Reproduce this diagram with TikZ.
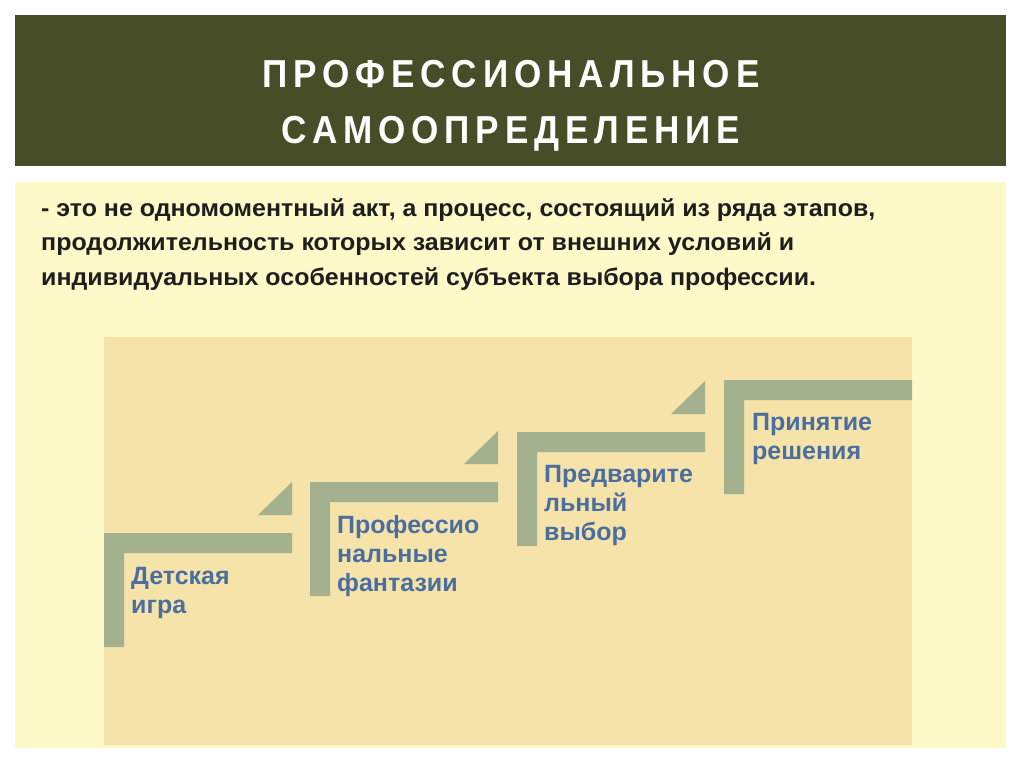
\documentclass[tikz,border=0pt]{standalone}
\usepackage{fontspec}
\setmainfont{Liberation Sans}
\newfontfamily\titlefont[FakeStretch=0.9,LetterSpace=15]{Liberation Sans}
\newfontfamily\bodyfont[FakeStretch=1.04]{Liberation Sans}
\definecolor{titlebg}{HTML}{474D27}
\definecolor{panel}{HTML}{FEF9C8}
\definecolor{tanbox}{HTML}{F5E3AA}
\definecolor{barcol}{HTML}{A3B18F}
\definecolor{lblcol}{HTML}{4A6EA0}
\definecolor{bodycol}{HTML}{1E1E1E}
\tikzset{
  titletext/.style={anchor=base, inner sep=0pt, text=white, font=\titlefont\bfseries\fontsize{39}{44}\selectfont},
  bodytext/.style={anchor=base west, inner sep=0pt, text=bodycol, font=\bodyfont\bfseries\fontsize{24}{34}\selectfont},
  steplabel/.style={anchor=base west, inner sep=0pt, text=lblcol, font=\bfseries\fontsize{25}{29}\selectfont},
  stepbar/.style={fill=barcol},
  steptri/.style={fill=barcol}
}
\begin{document}
\begin{tikzpicture}[x=1pt,y=-1pt]
\useasboundingbox (0,0) rectangle (1024,767);
\fill[white] (0,0) rectangle (1024,767);
\fill[titlebg] (15,15) rectangle (1006,166);
\fill[panel] (15,182) rectangle (1006,748);
\fill[tanbox] (104,337) rectangle (912,745);

\node[titletext] (title1) at (511,88) {ПРОФЕССИОНАЛЬНОЕ};
\node[titletext] (title2) at (511,144) {САМООПРЕДЕЛЕНИЕ};

\node[bodytext] (body1) at (41,217) {- это не одномоментный акт, а процесс, состоящий из ряда этапов,};
\node[bodytext] (body2) at (41,251) {продолжительность которых зависит от внешних условий и};
\node[bodytext] (body3) at (41,285) {индивидуальных особенностей субъекта выбора профессии.};

% steps
\foreach \x/\T in {104/533, 310/482, 517/432, 724/380}{
  \fill[stepbar] (\x,\T) -- (\x+188,\T) -- (\x+188,\T+20) -- (\x+20,\T+20)
     -- (\x+20,\T+114) -- (\x,\T+114) -- cycle;
}
\foreach \x/\T in {104/533, 310/482, 517/432}{
  \fill[steptri] (\x+154,\T-18) -- (\x+188,\T-51) -- (\x+188,\T-18) -- cycle;
}

\node[steplabel] (s1a) at (131,584) {Детская};
\node[steplabel] (s1b) at (131,613) {игра};

\node[steplabel] (s2a) at (337,533) {Профессио};
\node[steplabel] (s2b) at (337,562) {нальные};
\node[steplabel] (s2c) at (337,591) {фантазии};

\node[steplabel] (s3a) at (544,482) {Предварите};
\node[steplabel] (s3b) at (544,511) {льный};
\node[steplabel] (s3c) at (544,540) {выбор};

\node[steplabel] (s4a) at (752,430) {Принятие};
\node[steplabel] (s4b) at (752,459) {решения};
\end{tikzpicture}
\end{document}
